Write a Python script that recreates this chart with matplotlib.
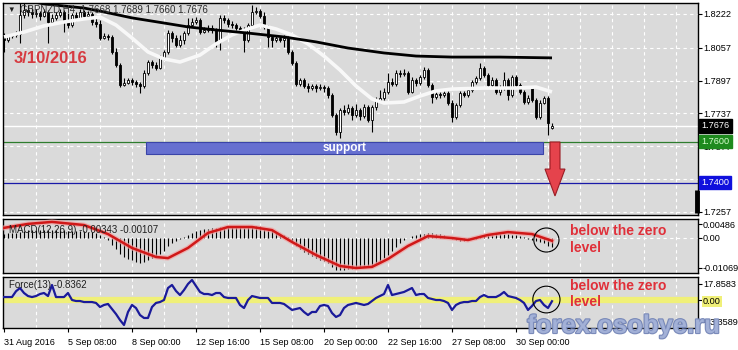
import matplotlib
matplotlib.use("Agg")
import matplotlib.pyplot as plt
import matplotlib.patheffects as pe
import matplotlib.transforms as mtransforms
from matplotlib.patches import Rectangle, Polygon, Ellipse
import numpy as np

plt.rcParams['font.family'] = ['Liberation Sans', 'DejaVu Sans']

# GBPNZD H4, 31 Aug 2016 16:00 .. 3 Oct 2016
opens = [1.8115, 1.8095, 1.8115, 1.8120, 1.8125, 1.8217, 1.8242, 1.8232, 1.8222, 1.8227,
         1.8212, 1.8232, 1.8183, 1.8203, 1.8217, 1.8232, 1.8193, 1.8168, 1.8217, 1.8203,
         1.8232, 1.8212, 1.8222, 1.8183, 1.8173, 1.8105, 1.8115, 1.8110, 1.8037, 1.7973,
         1.7876, 1.7886, 1.7900, 1.7891, 1.7881, 1.7871, 1.7934, 1.7988, 1.7973, 1.7959,
         1.8008, 1.8037, 1.8129, 1.8105, 1.8071, 1.8095, 1.8129, 1.8168, 1.8183, 1.8193,
         1.8134, 1.8144, 1.8154, 1.8144, 1.8086, 1.8203, 1.8193, 1.8173, 1.8168, 1.8154,
         1.8144, 1.8095, 1.8168, 1.8232, 1.8237, 1.8212, 1.8159, 1.8110, 1.8095, 1.8105,
         1.8095, 1.8105, 1.8037, 1.7983, 1.7881, 1.7900, 1.7871, 1.7861, 1.7871, 1.7861,
         1.7866, 1.7861, 1.7827, 1.7730, 1.7647, 1.7754, 1.7744, 1.7764, 1.7730, 1.7754,
         1.7725, 1.7769, 1.7705, 1.7769, 1.7803, 1.7813, 1.7842, 1.7891, 1.7881, 1.7934,
         1.7930, 1.7934, 1.7842, 1.7900, 1.7886, 1.7915, 1.7949, 1.7876, 1.7817, 1.7832,
         1.7827, 1.7837, 1.7788, 1.7720, 1.7778, 1.7837, 1.7827, 1.7852, 1.7891, 1.7910,
         1.7959, 1.7925, 1.7876, 1.7900, 1.7842, 1.7861, 1.7900, 1.7827, 1.7915, 1.7876,
         1.7842, 1.7793, 1.7861, 1.7803, 1.7720, 1.7788, 1.7813, 1.7668]
highs = [1.8129, 1.8125, 1.8129, 1.8139, 1.8276, 1.8276, 1.8266, 1.8251, 1.8246, 1.8237,
         1.8246, 1.8242, 1.8222, 1.8232, 1.8246, 1.8242, 1.8227, 1.8227, 1.8232, 1.8246,
         1.8242, 1.8237, 1.8232, 1.8207, 1.8193, 1.8129, 1.8125, 1.8120, 1.8056, 1.7983,
         1.7910, 1.7910, 1.7910, 1.7900, 1.7891, 1.7949, 1.7998, 1.7998, 1.7988, 1.8022,
         1.8047, 1.8144, 1.8139, 1.8120, 1.8120, 1.8139, 1.8203, 1.8203, 1.8207, 1.8203,
         1.8159, 1.8168, 1.8168, 1.8154, 1.8217, 1.8217, 1.8203, 1.8188, 1.8178, 1.8164,
         1.8159, 1.8178, 1.8266, 1.8256, 1.8246, 1.8232, 1.8168, 1.8120, 1.8115, 1.8115,
         1.8120, 1.8115, 1.8047, 1.7993, 1.7910, 1.7910, 1.7886, 1.7881, 1.7881, 1.7881,
         1.7876, 1.7871, 1.7837, 1.7739, 1.7764, 1.7778, 1.7783, 1.7774, 1.7783, 1.7764,
         1.7783, 1.7778, 1.7778, 1.7817, 1.7852, 1.7861, 1.7934, 1.7910, 1.7949, 1.7949,
         1.7954, 1.7944, 1.7915, 1.7910, 1.7925, 1.7964, 1.7959, 1.7886, 1.7842, 1.7842,
         1.7852, 1.7847, 1.7803, 1.7788, 1.7847, 1.7847, 1.7861, 1.7900, 1.7920, 1.7983,
         1.7969, 1.7934, 1.7915, 1.7910, 1.7876, 1.7939, 1.7910, 1.7925, 1.7925, 1.7886,
         1.7852, 1.7827, 1.7866, 1.7813, 1.7803, 1.7822, 1.7822, 1.7689]
lows = [1.8037, 1.8086, 1.8105, 1.8110, 1.8081, 1.8203, 1.8212, 1.8203, 1.8207, 1.8193,
        1.8207, 1.8081, 1.8173, 1.8193, 1.8207, 1.8134, 1.8154, 1.8159, 1.8188, 1.8193,
        1.8198, 1.8203, 1.8168, 1.8159, 1.8095, 1.8100, 1.8095, 1.8027, 1.7964, 1.7866,
        1.7871, 1.7881, 1.7876, 1.7866, 1.7837, 1.7861, 1.7925, 1.7959, 1.7949, 1.7954,
        1.7998, 1.8027, 1.8086, 1.8061, 1.8061, 1.8076, 1.8120, 1.8159, 1.8173, 1.8125,
        1.8129, 1.8134, 1.8129, 1.8061, 1.8047, 1.8178, 1.8159, 1.8154, 1.8144, 1.8129,
        1.8037, 1.8086, 1.8159, 1.8222, 1.8203, 1.8149, 1.8061, 1.8061, 1.8086, 1.8086,
        1.8061, 1.8027, 1.7973, 1.7871, 1.7871, 1.7861, 1.7842, 1.7852, 1.7842, 1.7852,
        1.7842, 1.7813, 1.7720, 1.7632, 1.7617, 1.7730, 1.7735, 1.7705, 1.7720, 1.7705,
        1.7715, 1.7696, 1.7647, 1.7754, 1.7793, 1.7803, 1.7832, 1.7871, 1.7871, 1.7915,
        1.7920, 1.7832, 1.7837, 1.7871, 1.7876, 1.7905, 1.7866, 1.7788, 1.7808, 1.7813,
        1.7817, 1.7778, 1.7696, 1.7710, 1.7769, 1.7817, 1.7817, 1.7842, 1.7881, 1.7900,
        1.7915, 1.7866, 1.7861, 1.7832, 1.7827, 1.7852, 1.7803, 1.7817, 1.7861, 1.7832,
        1.7783, 1.7783, 1.7793, 1.7710, 1.7710, 1.7783, 1.7632, 1.7660]
closes = [1.8095, 1.8115, 1.8120, 1.8125, 1.8217, 1.8242, 1.8232, 1.8222, 1.8227, 1.8212,
          1.8232, 1.8183, 1.8203, 1.8217, 1.8232, 1.8193, 1.8168, 1.8217, 1.8203, 1.8232,
          1.8212, 1.8222, 1.8183, 1.8173, 1.8105, 1.8115, 1.8110, 1.8037, 1.7973, 1.7876,
          1.7886, 1.7900, 1.7891, 1.7881, 1.7871, 1.7934, 1.7988, 1.7973, 1.7959, 1.8008,
          1.8037, 1.8129, 1.8105, 1.8071, 1.8095, 1.8129, 1.8168, 1.8183, 1.8193, 1.8134,
          1.8144, 1.8154, 1.8144, 1.8086, 1.8203, 1.8193, 1.8173, 1.8168, 1.8154, 1.8144,
          1.8095, 1.8168, 1.8232, 1.8237, 1.8212, 1.8159, 1.8110, 1.8095, 1.8105, 1.8095,
          1.8105, 1.8037, 1.7983, 1.7881, 1.7900, 1.7871, 1.7861, 1.7871, 1.7861, 1.7866,
          1.7861, 1.7827, 1.7730, 1.7647, 1.7754, 1.7744, 1.7764, 1.7730, 1.7754, 1.7725,
          1.7769, 1.7705, 1.7769, 1.7803, 1.7813, 1.7842, 1.7891, 1.7881, 1.7934, 1.7930,
          1.7934, 1.7842, 1.7900, 1.7886, 1.7915, 1.7949, 1.7876, 1.7817, 1.7832, 1.7827,
          1.7837, 1.7788, 1.7720, 1.7778, 1.7837, 1.7827, 1.7852, 1.7891, 1.7910, 1.7959,
          1.7925, 1.7876, 1.7900, 1.7842, 1.7861, 1.7900, 1.7827, 1.7915, 1.7876, 1.7842,
          1.7793, 1.7813, 1.7803, 1.7720, 1.7788, 1.7813, 1.7691, 1.7676]

# moving averages, read at a few bars
ma_fast_bars = [0, 5, 10, 15, 20, 24, 28, 32, 36, 40, 44, 49, 53, 57, 61, 64, 68, 72,
                76, 80, 84, 88, 92, 95, 100, 104, 108, 112, 120, 128, 133, 137]
ma_fast = [1.8110, 1.8134, 1.8164, 1.8183, 1.8198, 1.8207, 1.8168, 1.8105, 1.8037, 1.8003,
           1.7988, 1.8022, 1.8076, 1.8120, 1.8149, 1.8168, 1.8149, 1.8120, 1.8076, 1.8017,
           1.7949, 1.7871, 1.7808, 1.7788, 1.7793, 1.7822, 1.7847, 1.7856, 1.7861, 1.7861,
           1.7866, 1.7842]
ma_slow_bars = [5, 10, 20, 25, 32, 40, 46, 53, 61, 70, 78, 86, 95, 103, 112, 124, 137]
ma_slow = [1.8290, 1.8271, 1.8251, 1.8232, 1.8203, 1.8178, 1.8159, 1.8144, 1.8129, 1.8110,
           1.8086, 1.8056, 1.8032, 1.8017, 1.8012, 1.8012, 1.8008]

macd_hist = [0.0015, 0.0016, 0.0017, 0.0018, 0.0022, 0.0025, 0.0027, 0.0028, 0.0028, 0.0028,
             0.0029, 0.0027, 0.0027, 0.0028, 0.0029, 0.0027, 0.0024, 0.0024, 0.0023, 0.0024,
             0.0023, 0.0022, 0.0019, 0.0016, 0.0008, 0.0003, -0.0008, -0.0025, -0.0040, -0.0058,
             -0.0068, -0.0075, -0.0080, -0.0085, -0.0089, -0.0086, -0.0078, -0.0072, -0.0066, -0.0056,
             -0.0046, -0.0030, -0.0020, -0.0012, -0.0006, 0.0002, 0.0010, 0.0018, 0.0025, 0.0026,
             0.0030, 0.0032, 0.0034, 0.0033, 0.0037, 0.0039, 0.0039, 0.0039, 0.0039, 0.0038,
             0.0036, 0.0037, 0.0040, 0.0041, 0.0040, 0.0036, 0.0030, 0.0024, 0.0019, 0.0014,
             0.0010, 0.0003, -0.0010, -0.0030, -0.0040, -0.0050, -0.0058, -0.0066, -0.0072, -0.0078,
             -0.0083, -0.0090, -0.0102, -0.0114, -0.0114, -0.0113, -0.0111, -0.0110, -0.0108, -0.0106,
             -0.0104, -0.0100, -0.0096, -0.0090, -0.0082, -0.0072, -0.0060, -0.0048, -0.0034, -0.0018,
             -0.0008, -0.0002, 0.0006, 0.0010, 0.0013, 0.0015, 0.0016, 0.0016, 0.0015, 0.0013,
             0.0010, 0.0004, -0.0004, -0.0008, -0.0010, -0.0010, -0.0008, -0.0006, -0.0003, 0.0002,
             0.0006, 0.0009, 0.0011, 0.0012, 0.0013, 0.0013, 0.0012, 0.0011, 0.0010, 0.0007,
             0.0002, -0.0004, -0.0008, -0.0011, -0.0014, -0.0018, -0.0028, -0.00343]
macd_sig_bars = [0, 6, 12, 20, 26, 32, 38, 41, 46, 51, 56, 62, 67, 72, 78, 84, 88, 92,
                 96, 101, 106, 112, 116, 121, 126, 132, 137]
macd_sig = [0.0035, 0.0049, 0.0056, 0.0045, 0.0013, -0.0036, -0.0068, -0.0072, -0.0036,
            0.0017, 0.0038, 0.0038, 0.0027, -0.0015, -0.0061, -0.0100, -0.0107, -0.0103,
            -0.0075, -0.0029, 0.0006, -0.0001, -0.0008, 0.0010, 0.0020, 0.0013, -0.00107]

force = [3.7, 3.7, 3.7, 10.0, 13.5, 8.1, 4.8, 3.7, 4.8, 7.0,
         8.1, 4.8, 16.8, 3.7, 3.7, 3.7, 8.1, 0.5, -0.6, -0.6,
         -1.7, -1.7, -1.7, -2.7, -7.1, -4.9, -3.8, -9.2, -14.7, -21.2,
         -26.6, -12.5, -4.9, -8.2, -15.8, -19.0, -19.0, -7.1, -2.7, -1.7,
         0.5, 13.5, 16.8, 10.3, 5.9, 11.3, 17.9, 22.2, 15.7, 9.2,
         7.0, 7.0, 5.9, 8.1, 8.1, 3.7, 2.7, 2.7, 2.7, -4.9,
         -8.2, 0.5, 4.8, 3.7, 2.7, 2.7, 2.7, -2.7, -2.7, -2.7,
         -3.8, -7.1, -10.3, -9.2, -8.2, -12.5, -15.8, -12.5, -12.5, -6.0,
         -4.9, -6.0, -13.6, -17.9, -15.8, -8.2, -4.9, -3.8, -2.7, -3.8,
         -4.9, -3.8, -0.6, 2.7, 4.8, 7.0, 16.8, 5.9, 7.0, 8.1,
         9.2, 11.3, 13.5, 5.9, 7.0, 7.0, 2.7, 1.6, 0.5, 0.5,
         -0.6, -2.7, -10.3, -4.9, -2.7, -1.7, -1.7, -0.6, -0.6, 3.7,
         5.9, 3.7, 3.7, 3.7, 5.9, 9.2, 4.8, 3.7, 2.7, 0.5,
         -2.7, -10.3, -6.0, -0.6, 0.5, -4.9, -8.2, -0.8362]

price_ticks = [1.8222, 1.8057, 1.7897, 1.7737, 1.7577, 1.7417, 1.7257]
macd_ticks = [0.00486, 0.0, -0.01069]
macd_labels = ['0.00486', '0.00', '-0.01069']
force_ticks = [17.8583, 0.0, -23.3589]
force_labels = ['17.8583', '0.00', '-23.3589']
date_ticks = [0, 16, 32, 48, 64, 80, 96, 112, 128]
date_labels = ['31 Aug 2016', '5 Sep 08:00', '8 Sep 00:00', '12 Sep 16:00', '15 Sep 08:00',
               '20 Sep 00:00', '22 Sep 16:00', '27 Sep 08:00', '30 Sep 00:00']

bid = 1.7676
support_level = 1.7600
support_bottom = 1.7538
target_level = 1.7400

W, H = 738, 350
BG = '#dadada'
GRID = dict(color='white', lw=0.8, ls=(0, (3, 3)), zorder=1)


def px_axes(fig, x0, y0, x1, y1):
    return fig.add_axes([x0 / W, 1 - y1 / H, (x1 - x0) / W, (y1 - y0) / H])


def style_panel(ax, ylim):
    ax.set_facecolor(BG)
    ax.set_xlim(-0.25, 173.5)
    ax.set_ylim(*ylim)
    for s in ax.spines.values():
        s.set_color('black')
        s.set_linewidth(1)
    ax.yaxis.tick_right()
    ax.tick_params(axis='y', direction='out', length=3, width=0.8, pad=0.6,
                   labelsize=6.6, colors='black')
    ax.tick_params(axis='x', bottom=False, labelbottom=False)
    for gx in range(8, 174, 8):
        ax.axvline(gx, **GRID)


def draw_candles(ax):
    o = np.array(opens)
    c = np.array(closes)
    x = np.arange(len(c))
    up = c >= o
    ax.vlines(x, lows, highs, color='black', lw=0.8, zorder=4)
    bottom = np.minimum(o, c)
    height = np.maximum(np.abs(c - o), 0.00006)
    ax.bar(x[up], height[up], bottom=bottom[up], width=0.7, color='white',
           edgecolor='black', lw=0.6, zorder=5)
    ax.bar(x[~up], height[~up], bottom=bottom[~up], width=0.7, color='black',
           edgecolor='black', lw=0.6, zorder=5)


def main():
    fig = plt.figure(figsize=(W / 100, H / 100), dpi=100)
    fig.patch.set_facecolor('white')

    # --- price panel
    ax = px_axes(fig, 3, 3, 698, 215)
    style_panel(ax, (1.72421, 1.82756))
    ax.set_yticks(price_ticks, ['%.4f' % v for v in price_ticks])
    for v in price_ticks:
        ax.axhline(v, **GRID)

    ax.axhline(support_level, color='#2e7d2e', lw=0.9, zorder=2)
    ax.axhline(target_level, color='#1a1aa8', lw=0.9, zorder=2)
    ax.axhline(bid, color='white', lw=1.0, zorder=2)

    ax.add_patch(Rectangle((35.5, support_bottom), 134.75 - 35.5, support_level - support_bottom,
                           facecolor='#6670d0', edgecolor='#3a44a8', lw=0.8, zorder=3))
    ax.text((35.5 + 134.75) / 2, (support_level + support_bottom) / 2, 'support',
            color='white', fontsize=8.5, fontweight='bold', ha='center', va='center', zorder=3)

    ax.plot(ma_fast_bars, ma_fast, color='#f8f8f8', lw=2.6, zorder=6, solid_capstyle='butt')
    ax.plot(ma_slow_bars, ma_slow, color='black', lw=2.0, zorder=6, solid_capstyle='butt')
    draw_candles(ax)

    arrow = [(136.5, 1.7598), (139.0, 1.7598), (139.0, 1.7466), (140.25, 1.7466),
             (137.75, 1.7335), (135.25, 1.7466), (136.5, 1.7466)]
    ax.add_patch(Polygon(arrow, closed=True, facecolor='#e5434c', edgecolor='#9a1c24',
                         lw=0.8, zorder=7))

    # right-edge price boxes
    tr = mtransforms.blended_transform_factory(ax.transAxes, ax.transData)
    for val, fc, tc in [(bid, 'black', 'white'), (support_level, '#1e8a1e', '#d8ffd0'),
                        (target_level, '#1010dd', 'white')]:
        ax.text(1.0045, val, '%.4f' % val, transform=tr, fontsize=6.6, color=tc,
                ha='left', va='center', clip_on=False, zorder=10,
                bbox=dict(boxstyle='square,pad=0.25', fc=fc, ec=fc))
    ax.plot([0.998, 0.998], [0.01, 0.118], transform=ax.transAxes, color='black',
            lw=3.5, clip_on=False, zorder=9, solid_capstyle='butt')

    ax.text(0.006, 0.967, '\u25bc', transform=ax.transAxes, fontsize=5.5, color='#202020',
            va='center', ha='left', zorder=8)
    ax.text(0.024, 0.967, 'GBPNZD,H4  1.7668 1.7689 1.7660 1.7676', transform=ax.transAxes,
            fontsize=7, color='#303030', va='center', ha='left', zorder=8)
    ax.text(0.016, 0.74, '3/10/2016', transform=ax.transAxes, fontsize=12,
            fontweight='bold', color='#d63a40', va='center', ha='left', zorder=8)

    # --- MACD panel
    ax2 = px_axes(fig, 3, 219, 698, 273)
    style_panel(ax2, (-0.01246, 0.00663))
    ax2.set_yticks(macd_ticks, macd_labels)
    ax2.axhline(0, **GRID)
    ax2.vlines(np.arange(len(macd_hist)), 0, macd_hist, color='black', lw=0.8, zorder=3)
    ax2.plot(macd_sig_bars, macd_sig, color='#f2a0a0', lw=3.6, alpha=0.7, zorder=4)
    ax2.plot(macd_sig_bars, macd_sig, color='#d01818', lw=1.8, zorder=5)
    ax2.text(0.008, 0.80, 'MACD(12,26,9) -0.00343 -0.00107', transform=ax2.transAxes,
             fontsize=7, color='#202020', va='center', ha='left', zorder=6)
    ax2.add_patch(Ellipse((135.6, -0.0008), 6.3, 0.0085, fill=False, ec='black',
                          lw=0.8, zorder=7))

    # --- Force panel
    ax3 = px_axes(fig, 3, 277, 698, 328)
    style_panel(ax3, (-29.87, 25.45))
    ax3.set_yticks(force_ticks, force_labels)
    ax3.axhline(0, color='#f0f078', lw=4.5, zorder=2)
    ax3.plot(np.arange(len(force)), force, color='#1a1a9a', lw=1.6, zorder=4)
    ax3.text(0.008, 0.84, 'Force(13) -0.8362', transform=ax3.transAxes,
             fontsize=7, color='#202020', va='center', ha='left', zorder=6)
    ax3.add_patch(Ellipse((135.6, 1.0), 6.8, 29.0, fill=False, ec='black', lw=0.8, zorder=7))
    ax3.tick_params(axis='x', bottom=True, labelbottom=True, direction='out', length=3,
                    width=0.8, pad=4, labelsize=6.5)
    ax3.set_xticks(date_ticks, date_labels)
    for lbl in ax3.get_xticklabels():
        lbl.set_ha('left')
    for lbl in ax3.get_yticklabels():
        if lbl.get_text() == '0.00':
            lbl.set_bbox(dict(boxstyle='square,pad=0.1', fc='#f0f078', ec='none'))

    # annotations
    for y1, y2 in [(231, 248), (286, 302)]:
        fig.text(570 / W, 1 - y1 / H, 'below the zero', fontsize=10, fontweight='bold',
                 color='#e0303a', ha='left', va='center')
        fig.text(570 / W, 1 - y2 / H, 'level', fontsize=10, fontweight='bold',
                 color='#e0303a', ha='left', va='center')

    fig.text(624 / W, 1 - 326 / H, 'forex.osobye.ru', fontsize=18.5, fontweight='bold',
             color='#a4b2d8', ha='center', va='center', zorder=20, alpha=0.95,
             path_effects=[pe.withStroke(linewidth=1.6, foreground='#7384b6')])

    fig.savefig('out.png', dpi=100, facecolor='white')


if __name__ == "__main__":
    main()
